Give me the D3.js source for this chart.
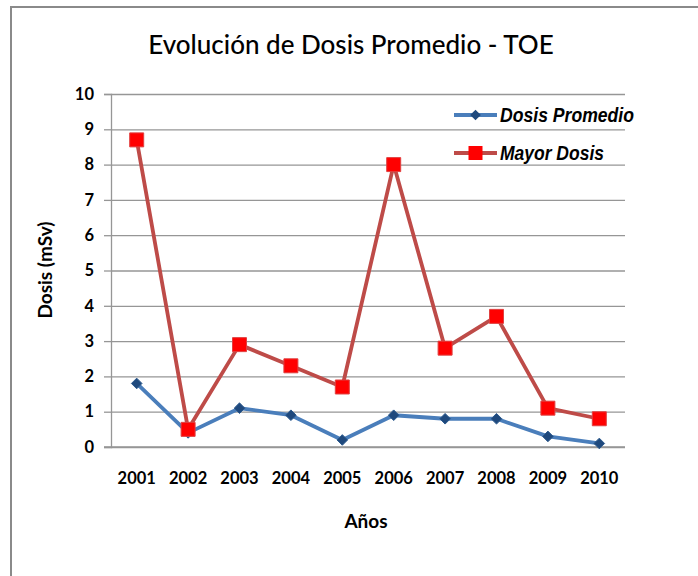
<!DOCTYPE html>
<html>
<head>
<meta charset="utf-8">
<script src="https://cdn.jsdelivr.net/npm/d3@7"></script>
<style>
  body { margin: 0; background: #fff; }
  svg { display: block; }
  .axis text { font-family: Lato, "Open Sans", sans-serif; font-weight: bold; font-size: 16.5px; fill: #000; }
</style>
</head>
<body>
<div id="chart"></div>
<script>
// data
var years = ['2001', '2002', '2003', '2004', '2005', '2006', '2007', '2008', '2009', '2010'];
var dosisPromedio = [1.8, 0.4, 1.1, 0.9, 0.2, 0.9, 0.8, 0.8, 0.3, 0.1];
var mayorDosis = [8.7, 0.5, 2.9, 2.3, 1.7, 8.0, 2.8, 3.7, 1.1, 0.8];
var yTicks = [0, 1, 2, 3, 4, 5, 6, 7, 8, 9, 10];

var width = 698;
var height = 576;
var plotLeft = 111, plotRight = 625, plotTop = 94, plotBottom = 447;

var svg = d3.select('#chart')
    .append('svg')
    .attr('width', width)
    .attr('height', height);

// outer frame (only left + top edges visible)
svg.append('path')
    .attr('d', 'M11,' + height + ' L11,7 L' + width + ',7')
    .attr('fill', 'none')
    .attr('stroke', '#8a8a8a')
    .attr('stroke-width', 2);

var x = d3.scaleBand()
    .domain(years)
    .range([plotLeft, plotRight])
    .padding(0);

var y = d3.scaleLinear()
    .domain([0, 10])
    .range([plotBottom, plotTop]);

function cx(d, i) { return x(years[i]) + x.bandwidth() / 2; }

// grid lines
svg.append('g')
    .attr('transform', 'translate(' + plotLeft + ',0)')
    .call(d3.axisLeft(y).tickValues(yTicks).tickSize(-(plotRight - plotLeft)).tickFormat(''))
    .call(function(g) {
        g.select('.domain').remove();
        g.selectAll('line').attr('stroke', '#969696').attr('stroke-width', 1.3);
    });

// y axis
svg.append('g')
    .attr('class', 'axis')
    .attr('transform', 'translate(' + plotLeft + ',0)')
    .call(d3.axisLeft(y).tickValues(yTicks).tickSize(7).tickPadding(10))
    .call(function(g) {
        g.select('.domain').attr('stroke', '#969696').attr('stroke-width', 1.3);
        g.selectAll('line').attr('stroke', '#969696').attr('stroke-width', 1.3);
    });

// x axis
svg.append('g')
    .attr('class', 'axis')
    .attr('transform', 'translate(0,' + plotBottom + ')')
    .call(d3.axisBottom(x).tickSize(0).tickPadding(25))
    .call(function(g) {
        g.select('.domain').attr('stroke', '#969696').attr('stroke-width', 1.3)
            .attr('d', 'M' + (plotLeft - 7) + ',0H' + plotRight);
    });

// lines
var line = d3.line()
    .x(function(d, i) { return cx(d, i); })
    .y(function(d) { return y(d); });

svg.append('path')
    .datum(dosisPromedio)
    .attr('d', line)
    .attr('fill', 'none')
    .attr('stroke', '#4a7ebb')
    .attr('stroke-width', 3.8)
    .attr('stroke-linejoin', 'round');

svg.append('path')
    .datum(mayorDosis)
    .attr('d', line)
    .attr('fill', 'none')
    .attr('stroke', '#be4b48')
    .attr('stroke-width', 3.8)
    .attr('stroke-linejoin', 'round');

var diamond = d3.symbol().type(d3.symbolDiamond2).size(72);
var square = d3.symbol().type(d3.symbolSquare).size(196);

svg.selectAll('.diamond')
    .data(dosisPromedio)
    .enter()
    .append('path')
    .attr('class', 'diamond')
    .attr('d', diamond)
    .attr('transform', function(d, i) { return 'translate(' + cx(d, i) + ',' + y(d) + ')'; })
    .attr('fill', '#1f497d')
    .attr('stroke', '#2c5a8e')
    .attr('stroke-width', 1);

svg.selectAll('.square')
    .data(mayorDosis)
    .enter()
    .append('path')
    .attr('class', 'square')
    .attr('d', square)
    .attr('transform', function(d, i) { return 'translate(' + cx(d, i) + ',' + y(d) + ')'; })
    .attr('fill', '#ff0000')
    .attr('stroke', '#e04040')
    .attr('stroke-width', 1);

// title
svg.append('text')
    .attr('x', 351)
    .attr('y', 54)
    .attr('text-anchor', 'middle')
    .style('font-family', 'Lato, "Open Sans", sans-serif')
    .style('font-size', '26px')
    .style('font-weight', 500)
    .text('Evolución de Dosis Promedio - TOE');

// axis titles
svg.append('text')
    .attr('transform', 'translate(52,270) rotate(-90)')
    .attr('text-anchor', 'middle')
    .style('font-family', 'Lato, "Open Sans", sans-serif')
    .style('font-weight', 'bold')
    .style('font-size', '19px')
    .text('Dosis (mSv)');

svg.append('text')
    .attr('x', 366)
    .attr('y', 528)
    .attr('text-anchor', 'middle')
    .style('font-family', 'Lato, "Open Sans", sans-serif')
    .style('font-weight', 'bold')
    .style('font-size', '19px')
    .text('Años');

// legend
var legendItems = [
    { label: 'Dosis Promedio', line: '#4a7ebb', fill: '#1f497d', sym: diamond, w: 134 },
    { label: 'Mayor Dosis', line: '#be4b48', fill: '#ff0000', sym: square, w: 104 }
];

var legend = svg.selectAll('.legend')
    .data(legendItems)
    .enter()
    .append('g')
    .attr('class', 'legend')
    .attr('transform', function(d, i) { return 'translate(454,' + (115 + i * 38) + ')'; });

legend.append('line')
    .attr('x1', 0).attr('x2', 43)
    .attr('stroke', function(d) { return d.line; })
    .attr('stroke-width', 3.8);

legend.append('path')
    .attr('d', function(d) { return d.sym(); })
    .attr('transform', 'translate(21.5,0)')
    .attr('fill', function(d) { return d.fill; });

legend.append('text')
    .attr('x', 46)
    .attr('dy', '0.36em')
    .attr('textLength', function(d) { return d.w; })
    .attr('lengthAdjust', 'spacingAndGlyphs')
    .style('font-family', '"Liberation Sans Narrow", "Liberation Sans", Arial, sans-serif')
    .style('font-weight', 'bold')
    .style('font-style', 'italic')
    .style('font-size', '20px')
    .text(function(d) { return d.label; });
</script>
</body>
</html>
